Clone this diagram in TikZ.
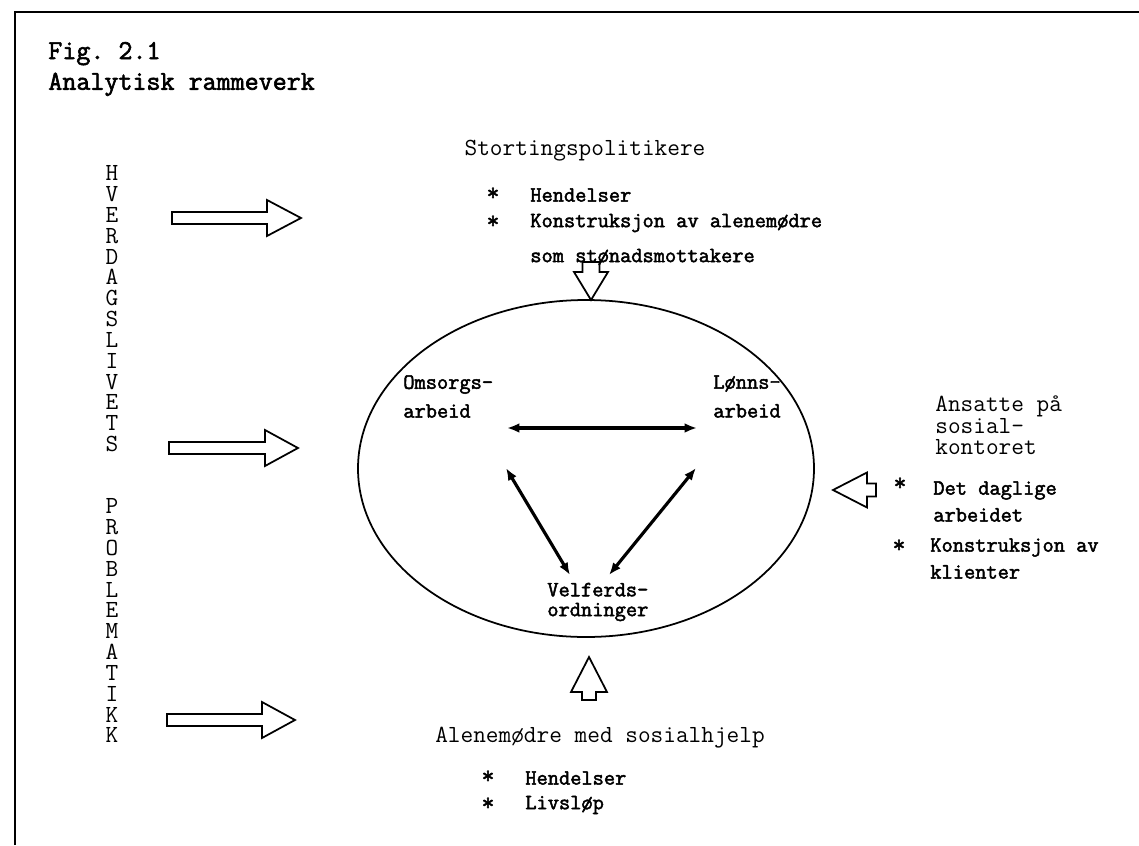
\documentclass[tikz,border=0pt]{standalone}
\usepackage{fontspec}
\setmonofont{Latin Modern Mono}[BoldFont={*}, BoldFeatures={FakeBold=2.2}]
\usepackage{tikz}
\usetikzlibrary{arrows.meta}
\tikzset{
	head/.style     = {font=\ttfamily\fontsize{14}{11.5}\selectfont, inner sep=0pt},
	item/.style     = {font=\ttfamily\bfseries\fontsize{12.4}{#1}\selectfont, inner sep=0pt, align=left},
	item/.default   = 15.3pt,
	star/.style     = {font=\ttfamily\bfseries\fontsize{14}{14}\selectfont, inner sep=0pt},
	letters/.style  = {font=\ttfamily\fontsize{14}{11.85}\selectfont, align=center, inner sep=0pt},
	relation/.style = {<->, line width=1.8pt},
	hollow/.style   = {draw, line width=1pt, line join=miter}
}
% start, angle, length, head length, shaft half width, head half width
\newcommand{\blockarrow}[6]{%
	\draw[hollow, shift={(#1)}, rotate=#2]
	(0,-#5) -- ({#3-#4},-#5) -- ({#3-#4},-#6) -- (#3,0) -- ({#3-#4},#6) -- ({#3-#4},#5) -- (0,#5) -- cycle;}

\begin{document}
\begin{tikzpicture}[x=0.02cm, y=-0.02cm, >={Latex[length=7pt,width=5.5pt]}]
	\useasboundingbox (0,0) rectangle (1139,845);
	\draw[line width=1.2pt] (15,845) -- (15,12) -- (1139,12);

	\node[font=\ttfamily\bfseries\fontsize{15.5}{17.5}\selectfont, inner sep=0pt, anchor=west, align=left] (title) at (48,69)
		{Fig. 2.1\\Analytisk rammeverk};

	% left column
	\node[letters, anchor=north] (hverdag) at (112,165.5) {H\\V\\E\\R\\D\\A\\G\\S\\L\\I\\V\\E\\T\\S};
	\node[letters, anchor=north] (problem) at (112,498.5) {P\\R\\O\\B\\L\\E\\M\\A\\T\\I\\K\\K};
	\blockarrow{172,218}{0}{129}{34}{6}{18}
	\blockarrow{169,448}{0}{129}{33}{6}{18}
	\blockarrow{167,720}{0}{128}{33}{6}{18}

	% top
	\node[head] (storting) at (585,151) {Stortingspolitikere};
	\node[star] (s1) at (493,194) {*};
	\node[star] (s2) at (493,222) {*};
	\node[item, anchor=west] (hend1) at (530,195) {Hendelser};
	\node[item, anchor=west] (konst1) at (530,223) {Konstruksjon av alenemødre};
	\node[item, anchor=west] (som) at (530,257) {som stønadsmottakere};
	\blockarrow{591,262}{-90}{38}{28}{8.5}{17}

	% ellipse
	\draw[line width=1pt] (586,468.5) ellipse [x radius=228, y radius=168.5];
	\node[item=16.4pt, anchor=west] (omsorg) at (403,396.5) {Omsorgs—\\arbeid};
	\node[item=16.4pt, anchor=west] (lonn) at (713,396.5) {Lønns—\\arbeid};
	\node[item=11.3pt, anchor=west] (velferd) at (547,602) {Velferds—\\ordninger};
	\coordinate (h1) at (507,428);
	\coordinate (h2) at (697,428);
	\coordinate (l1) at (506,468);
	\coordinate (l2) at (570,575);
	\coordinate (r1) at (696,468);
	\coordinate (r2) at (609,575);
	\draw[relation] (h1) -- (h2);
	\draw[relation] (l1) -- (l2);
	\draw[relation] (r1) -- (r2);

	% right
	\node[head, anchor=west, align=left] (ansatte) at (935,425) {Ansatte på\\sosial—\\kontoret};
	\blockarrow{876,490}{180}{43}{34}{6.5}{17.5}
	\node[star] (s3) at (900,484) {*};
	\node[star] (s4) at (899,546) {*};
	\node[item, anchor=west] (daglig) at (933,501.5) {Det daglige\\arbeidet};
	\node[item, anchor=west] (konst2) at (930,558.5) {Konstruksjon av\\klienter};

	% bottom
	\blockarrow{589,700}{90}{43}{35}{7}{18}
	\node[head] (alene) at (600,738) {Alenemødre med sosialhjelp};
	\node[star] (s5) at (488,777) {*};
	\node[star] (s6) at (488,804) {*};
	\node[item, anchor=west] (hend2) at (525,778) {Hendelser};
	\node[item, anchor=west] (livs) at (525,805) {Livsløp};
\end{tikzpicture}
\end{document}
